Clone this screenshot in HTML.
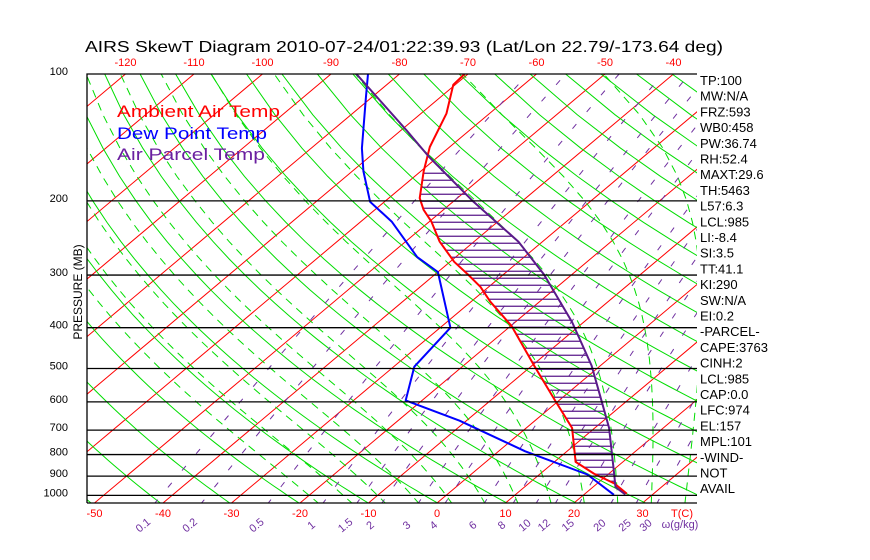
<!DOCTYPE html>
<html><head><meta charset="utf-8"><style>
body{margin:0;background:#fff;}
svg{display:block;font-family:"Liberation Sans",sans-serif;}
</style></head><body>
<svg id="chart" width="870" height="560" viewBox="0 0 870 560" xmlns="http://www.w3.org/2000/svg">
<rect width="870" height="560" fill="#fff"/>
<defs><clipPath id="plotclip"><rect x="87" y="74" width="610" height="429"/></clipPath></defs>
<text x="85" y="52" font-size="16" textLength="638" lengthAdjust="spacingAndGlyphs">AIRS SkewT Diagram 2010-07-24/01:22:39.93 (Lat/Lon 22.79/-173.64 deg)</text>
<g id="bg" clip-path="url(#plotclip)"></g>
<g id="hatch" clip-path="url(#plotclip)"></g>
<g id="profiles" clip-path="url(#plotclip)"></g>
<g id="axes"></g>
<text x="117" y="117" font-size="17" fill="#f00" textLength="163" lengthAdjust="spacingAndGlyphs">Ambient Air Temp</text>
<text x="117" y="139" font-size="17" fill="#00f" textLength="150" lengthAdjust="spacingAndGlyphs">Dew Point Temp</text>
<text x="117" y="160" font-size="17" fill="#6a1fa0" textLength="148" lengthAdjust="spacingAndGlyphs">Air Parcel Temp</text>
<text transform="translate(82,292) rotate(-90)" text-anchor="middle" font-size="12">PRESSURE (MB)</text>
<g id="stats"></g>
</svg>
<script>
const tempP=[100,106,124,149,170,197,210,224,250,279,300,320,347,396,495,595,692,833,888,937,991];
const tempT=[-70.5,-70.3,-66.3,-62.9,-59.6,-55.5,-52.9,-49.7,-45,-39.4,-35,-31.2,-27.2,-19.9,-9.4,-0.6,6.7,13.1,17.8,22.5,26.1];
const dewP=[100,113,150,170,201,224,272,295,400,495,595,665,786,892,997];
const dewT=[-84.6,-81,-72.6,-68.4,-62.1,-55.5,-45.6,-40,-28.5,-27,-22.4,-11,3.9,17,24.4];
const parcelP=[100,136,157,201,250,299,388,492,603,692,869,956,995];
const parcelT=[-86.3,-69.2,-61.4,-47,-33.5,-24.1,-11.7,-1.3,6.7,12.1,20,23.3,26];
const pressureTicks=[100,200,300,400,500,600,700,800,900,1000];
const topTempTicks=[-120,-110,-100,-90,-80,-70,-60,-50,-40];
const bottomTempTicks=[-50,-40,-30,-20,-10,0,10,20,30];
const mixRatios=[0.1,0.2,0.5,1,1.5,2,3,4,6,8,10,12,15,20,25,30];
const mixLabels=["0.1","0.2","0.5","1","1.5","2","3","4","6","8","10","12","15","20","25","30"];
const statLines=["TP:100","MW:N/A","FRZ:593","WB0:458","PW:36.74","RH:52.4","MAXT:29.6","TH:5463","L57:6.3","LCL:985","LI:-8.4","SI:3.5","TT:41.1","KI:290","SW:N/A","EI:0.2","-PARCEL-","CAPE:3763","CINH:2","LCL:985","CAP:0.0","LFC:974","EL:157","MPL:101","-WIND-","NOT","AVAIL"];

const NS="http://www.w3.org/2000/svg";
function yP(p){return 74+183*Math.log(p/100);}
function pY(y){return 100*Math.exp((y-74)/183);}
function xT(T,y){return 437+6.85*T+1.19*(503-y);}
function mk(tag,attrs,parent){const e=document.createElementNS(NS,tag);for(const k in attrs)e.setAttribute(k,attrs[k]);parent.appendChild(e);return e;}
const bg=document.getElementById('bg'),axes=document.getElementById('axes'),prof=document.getElementById('profiles'),hatch=document.getElementById('hatch'),stats=document.getElementById('stats');

// isotherms
for(let T=-200;T<=70;T+=10){
  const l=mk('line',{x1:xT(T,503),y1:503,x2:xT(T,74),y2:74,stroke:'#f00','stroke-width':1},bg);
  
  
}
// dry adiabats
for(let th=200;th<=600;th+=10){
  let pts=[];
  for(let p=1050;p>=100;p-=25){const T=th*Math.pow(p/1000,0.286)-273.15;const y=yP(p);pts.push(xT(T,y).toFixed(1)+','+y.toFixed(1));}
  const l=mk('polyline',{points:pts.join(' '),fill:'none',stroke:'#00dd00','stroke-width':1},bg);
  
  
}
// moist adiabats
function es(T){return 6.112*Math.exp(17.67*T/(T+243.5));}
for(let T0=-20;T0<=45;T0+=5){
  let T=T0+273.15,p=1000,pts=[];
  // extend down to 1050
  let Tb=T, pb=p;
  for(let q=1000;q<1050;q+=5){const rs=0.622*es(Tb-273.15)/(q-es(Tb-273.15));const d=(287*Tb+2.5e6*rs)/(q*(1004+2.5e6*2.5e6*rs*0.622/(287*Tb*Tb)));Tb+=d*5;}
  pts.push(xT(Tb-273.15,yP(1050)).toFixed(1)+','+yP(1050).toFixed(1));
  while(p>100){
    const rs=0.622*es(T-273.15)/(p-es(T-273.15));
    const d=(287*T+2.5e6*rs)/(p*(1004+2.5e6*2.5e6*rs*0.622/(287*T*T)));
    T-=d*5;p-=5;
    if(p%25===0){const y=yP(p);pts.push(xT(T-273.15,y).toFixed(1)+','+y.toFixed(1));}
  }
  const l=mk('polyline',{points:pts.join(' '),fill:'none',stroke:'#00dd00','stroke-width':1,'stroke-dasharray':'8,6'},bg);
  
  
}
// mixing ratio lines
function wT(w,p){const e=w*p/(622+w);const a=Math.log(e/6.112);return 243.5*a/(17.67-a);}
mixRatios.forEach((w,i)=>{
  let pts=[];
  for(let p=1050;p>=100;p-=25){const y=yP(p);pts.push(xT(wT(w,p),y).toFixed(1)+','+y.toFixed(1));}
  const l=mk('polyline',{points:pts.join(' '),fill:'none',stroke:'#7030a0','stroke-width':1,'stroke-dasharray':'6,16'},bg);
  
  
  const xb=xT(wT(w,1050),503)-10;
  const t=mk('text',{x:xb,y:528,'font-size':11,fill:'#7030a0','text-anchor':'middle',transform:`rotate(-40 ${xb} 528)`},axes);
  t.textContent=mixLabels[i];
  
  
});
// pressure lines & labels
pressureTicks.forEach(p=>{
  const y=yP(p);
  if(p>100){const l=mk('line',{x1:87,y1:y,x2:697,y2:y,stroke:'#000','stroke-width':1.3},axes);
  
  }
  const t=mk('text',{x:68,y:y+1,'font-size':11,'text-anchor':'end'},axes);
  t.textContent=p;
  
  
});
const border=mk('path',{d:'M87,503 L87,74 L697,74 M87,503 L697,503',stroke:'#000','stroke-width':1.3,fill:'none'},axes);


topTempTicks.forEach(T=>{
  const t=mk('text',{x:xT(T,74),y:66,'font-size':11,fill:'#f00','text-anchor':'middle'},axes);
  t.textContent=T;
  
  
});
bottomTempTicks.forEach(T=>{
  const t=mk('text',{x:xT(T,503),y:517,'font-size':11,fill:'#f00','text-anchor':'middle'},axes);
  t.textContent=T;
  
  
});
const tc=mk('text',{x:682,y:517,'font-size':11,fill:'#f00','text-anchor':'middle'},axes);
tc.textContent='T(C)';


const wu=mk('text',{x:680,y:528,'font-size':11,fill:'#7030a0','text-anchor':'middle'},axes);
wu.textContent='ω(g/kg)';



// interpolation in log p
function interp(P,Tarr,p){
  for(let i=0;i<P.length-1;i++){if(p>=P[i]&&p<=P[i+1]){const f=(Math.log(p)-Math.log(P[i]))/(Math.log(P[i+1])-Math.log(P[i]));return Tarr[i]+f*(Tarr[i+1]-Tarr[i]);}}
  return null;
}
// hatch
for(let y=yP(172);y<=yP(995);y+=7){
  const p=pY(y);const a=interp(tempP,tempT,p),b=interp(parcelP,parcelT,p);
  if(a!==null&&b!==null&&b>a){
    const l=mk('line',{x1:xT(a,y),y1:y,x2:xT(b,y),y2:y,stroke:'#5a1a8a','stroke-width':1.3},hatch);
    
    
  }
}
function profile(P,Tarr,color,name){
  const pts=P.map((p,i)=>{const y=yP(p);return xT(Tarr[i],y).toFixed(1)+','+y.toFixed(1);});
  const l=mk('polyline',{points:pts.join(' '),fill:'none',stroke:color,'stroke-width':2,'stroke-linejoin':'round'},prof);
  
  
}
profile(dewP,dewT,'#0000ff','dew-point-line');
profile(tempP,tempT,'#ff0000','ambient-temp-line');
profile(parcelP,parcelT,'#5a1a8a','parcel-temp-line');

statLines.forEach((s,i)=>{
  const t=mk('text',{x:700,y:85+i*15.7,'font-size':13,fill:'#000'},stats);
  t.textContent=s;
  
  
});
</script>
</body></html>
